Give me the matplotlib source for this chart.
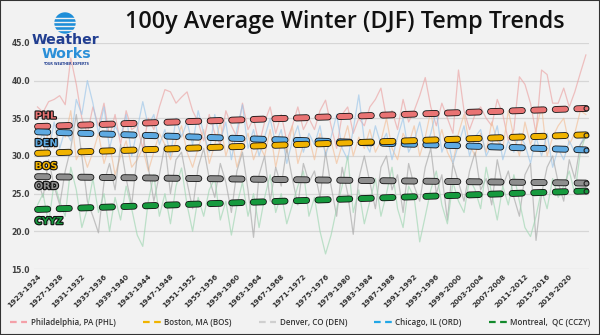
import numpy as np
import matplotlib.pyplot as plt
import matplotlib.patheffects as pe
from matplotlib.patches import Circle, Rectangle
from matplotlib.lines import Line2D

# Seasons on the category axis (winter DJF)
seasons = [f"{y}-{y + 1}" for y in range(1923, 2023)]
tick_every = 4

# Raw winter averages (deg F)
phl = [36.5, 35.8, 37.2, 37.5, 38.0, 36.8, 43.0, 39.5, 35.0, 33.0,
       36.5, 34.0, 37.0, 32.5, 35.5, 31.5, 36.0, 33.5, 34.0, 31.0,
       35.0, 33.5, 36.5, 38.8, 38.5, 37.0, 37.8, 38.5, 36.0, 34.5,
       32.0, 35.5, 33.0, 31.5, 36.0, 34.0, 32.5, 37.0, 33.5, 35.0,
       31.5, 34.5, 36.5, 33.0, 35.5, 32.0, 34.0, 36.5, 33.5, 35.0,
       33.5, 36.0, 37.4, 34.0, 31.0, 35.5, 36.5, 33.0, 35.0, 34.0,
       36.5, 37.5, 39.0, 35.0, 36.0, 33.5, 37.5, 34.5, 36.0, 38.0,
       40.4, 36.5, 34.0, 37.0, 35.0, 33.0, 41.4, 36.0, 33.5, 35.5,
       36.5, 35.0, 34.0, 37.5, 35.5, 32.0, 33.5, 40.5, 39.5, 37.0,
       33.0, 41.4, 40.8, 37.0, 37.0, 39.0, 36.5, 38.5, 41.0, 43.4]
bos = [32.5, 30.0, 33.5, 31.0, 34.0, 32.5, 36.0, 29.5, 31.0, 28.5,
       30.5, 33.0, 29.0, 31.5, 27.5, 30.0, 32.0, 28.5, 29.5, 31.0,
       28.0, 30.5, 33.0, 31.5, 29.5, 32.0, 34.0, 30.5, 28.5, 31.0,
       33.5, 29.0, 31.5, 34.5, 30.0, 32.5, 28.5, 31.0, 33.0, 29.5,
       31.5, 30.0, 33.5, 28.5, 32.0, 30.5, 34.0, 29.0, 31.5, 32.5,
       29.5, 33.0, 30.5, 32.0, 29.0, 31.5, 34.0, 30.0, 32.5, 31.0,
       33.5, 30.5, 32.0, 35.0, 31.0, 29.5, 33.0, 31.5, 34.0, 30.0,
       32.5, 36.0, 31.0, 33.5, 30.5, 29.0, 33.0, 35.5, 31.5, 30.0,
       33.0, 30.5, 34.5, 32.0, 31.0, 36.0, 32.5, 30.0, 34.5, 31.5,
       33.5, 36.5, 30.0, 32.5, 34.0, 35.0, 31.5, 33.0, 36.0, 35.5]
den = [31.5, 33.0, 30.5, 34.5, 31.0, 33.5, 32.0, 37.5, 35.5, 40.0,
       37.0, 33.0, 36.5, 31.0, 34.0, 32.5, 35.5, 30.0, 33.5, 37.2,
       34.0, 35.5, 31.5, 33.5, 30.0, 35.0, 32.5, 34.5, 31.5, 36.0,
       33.0, 30.5, 35.5, 32.0, 34.5, 29.5, 33.5, 36.8, 31.0, 33.5,
       30.0, 32.5, 35.0, 31.5, 33.5, 29.0, 32.0, 34.0, 30.5, 33.0,
       31.5, 34.0, 30.0, 32.5, 35.5, 31.0, 29.5, 33.5, 38.1, 32.0,
       30.5, 34.0, 31.5, 33.0, 29.5, 32.5, 35.0, 30.5, 32.0, 34.5,
       31.0, 33.0, 36.0, 30.5, 32.5, 29.0, 31.5, 34.0, 30.0, 32.5,
       33.5, 30.0, 31.5, 34.0, 29.5, 32.0, 30.5, 33.0, 31.5, 29.0,
       32.5, 30.0, 33.0, 28.5, 31.0, 29.5, 32.0, 30.5, 31.5, 33.0]
ord_ = [27.0, 24.5, 29.5, 26.0, 23.5, 28.0, 31.0, 35.5, 30.0, 24.0,
        22.0, 19.8, 26.5, 29.0, 25.5, 31.5, 27.0, 23.5, 30.0, 33.0,
        28.5, 24.0, 27.5, 31.5, 25.0, 29.5, 30.5, 26.5, 23.0, 28.5,
        31.0, 27.0, 24.5, 29.0, 26.5, 22.5, 28.0, 30.5, 25.5, 19.2,
        27.5, 30.0, 24.0, 28.5, 26.0, 31.0, 27.0, 23.5, 29.0, 26.5,
        28.0, 24.5, 30.5, 26.0, 22.0, 28.5, 25.0, 19.6, 27.0, 30.0,
        26.5, 23.0, 28.5, 30.0, 25.5, 27.5, 22.5, 29.0, 26.0, 24.0,
        28.5, 31.0, 25.0, 27.5, 21.5, 29.0, 26.5, 24.0, 28.0, 30.5,
        25.5, 27.0, 23.5, 29.5, 26.0, 28.0, 24.5, 22.0, 27.5, 29.0,
        18.8, 25.0, 28.5, 30.0, 26.5, 24.0, 29.5, 27.0, 31.5, 32.5]
cyyz = [23.5, 25.0, 21.0, 26.5, 24.0, 22.0, 28.5, 25.5, 20.5, 23.0,
        27.0, 22.5, 25.0, 20.0, 24.5, 21.5, 26.0, 23.0, 19.5, 18.0,
        24.0, 27.5, 22.0, 25.0, 21.0, 26.0, 28.4, 23.5, 20.0, 24.5,
        22.0, 25.5, 27.0, 21.5, 24.0, 19.5, 23.5, 26.5, 22.0, 25.0,
        20.5, 24.5, 27.5, 22.5, 25.0, 21.0, 23.5, 26.0, 28.0, 22.0,
        24.5, 20.0, 17.0, 19.5, 23.0, 26.0, 30.0, 22.5, 25.5, 21.0,
        24.0, 27.0, 22.0, 25.0, 28.5, 23.0, 20.5, 26.0, 24.5, 18.6,
        22.0, 25.5, 28.0, 23.5, 21.0, 26.5, 24.0, 22.5, 27.0, 25.5,
        23.0, 28.5, 25.0, 21.5, 26.0, 23.5, 27.5, 24.0, 20.5, 19.3,
        22.0, 25.5, 23.0, 27.0, 24.5, 26.0, 28.0, 25.0, 30.5, 32.8]

# Trend lines: value at first and last season
trend_names = ["PHL", "DEN", "BOS", "ORD", "CYYZ"]
trend_start = [33.9, 33.2, 30.35, 27.25, 22.9]
trend_end = [36.3, 30.8, 32.8, 26.4, 25.35]
trend_label_y = [35.35, 31.7, 28.65, 26.0, 21.35]

raw_series = [phl, bos, den, ord_, cyyz]
raw_colors = ["#eba3a3", "#f3bf98", "#9cc6ea", "#a6a6a6", "#9fd6b2"]
trend_colors = ["#e97474", "#5eaae2", "#f1b300", "#8e8e8e", "#169a3e"]

legend_labels = ["Philadelphia, PA (PHL)", "Boston, MA (BOS)", "Denver, CO (DEN)",
                 "Chicago, IL (ORD)", "Montreal,  QC (CCZY)"]
legend_colors = ["#f4a0a8", "#f0b400", "#cfcfcf", "#22a7e6", "#138a2c"]

bg = "#f2f2f2"
fig = plt.figure(figsize=(6, 3.35), dpi=100, facecolor=bg)
ax = fig.add_axes([0.057, 0.197, 0.925, 0.675], facecolor=bg)

x = np.arange(len(seasons))
for vals, c in zip(raw_series, raw_colors):
    ax.plot(x, vals, color=c, lw=0.9, alpha=0.65, zorder=2)

for name, s, e, c, ly in zip(trend_names, trend_start, trend_end, trend_colors, trend_label_y):
    ax.plot([x[0], x[-1]], [s, e], color=c, lw=3.7, dashes=(2.0, 2.2),
            dash_capstyle="round", zorder=4,
            path_effects=[pe.Stroke(linewidth=4.9, foreground="#111111"), pe.Normal()])
    ax.plot([x[-1]], [e], "o", ms=3.5, color=c, mec="#222222", mew=0.8, zorder=5)
    ax.text(-0.5, ly, name, color=c, fontsize=7, fontweight="bold", ha="left", va="center",
            zorder=6, path_effects=[pe.Stroke(linewidth=1.6, foreground="#111111"), pe.Normal()])

ax.set_xlim(-0.6, 99.6)
ax.set_ylim(15, 45)
ax.set_yticks([15, 20, 25, 30, 35, 40, 45])
ax.set_yticklabels([f"{v:.1f}" for v in [15, 20, 25, 30, 35, 40, 45]],
                   fontsize=5.5, fontweight="bold", color="#404040")
ax.set_xticks(x[::tick_every])
ax.set_xticklabels(seasons[::tick_every], rotation=45, ha="right", rotation_mode="anchor",
                   fontsize=5.3, fontweight="bold", color="#333333")
ax.tick_params(length=0, pad=3)
ax.grid(axis="y", color="#d6d6d6", lw=0.9)
ax.set_axisbelow(True)
for sp in ax.spines.values():
    sp.set_visible(False)

handles = [Line2D([], [], color=c, lw=1.6, dashes=(3, 2)) for c in legend_colors]
fig.legend(handles, legend_labels, loc="center", bbox_to_anchor=(0.5, 0.037), ncol=5,
           frameon=False, handlelength=2.2, handletextpad=0.4, columnspacing=3.4,
           prop={"size": 5.8, "weight": "semibold", "family": "Open Sans"},
           labelcolor="#333333")

fig.text(0.575, 0.935, "100y Average Winter (DJF) Temp Trends", fontsize=16.8,
         family="Open Sans", fontweight="semibold", color="#111111", ha="center", va="center")

# WeatherWorks logo, drawn in figure pixel coordinates
logo = fig.add_axes([30 / 600, 1 - 70 / 335, 72 / 600, 65 / 335])
logo.set_xlim(30, 102)
logo.set_ylim(70, 5)
logo.axis("off")
logo.add_patch(Circle((65, 23), 10, color="#1e8ed8"))
for yy in [17.5, 21.5, 25.5, 29.5]:
    logo.plot([54, 76], [yy, yy], color=bg, lw=1.0)
logo.text(65, 40, "Weather", color="#223f91", fontsize=10.2, fontweight="bold",
          ha="center", va="center", family="DejaVu Sans")
logo.text(66, 54, "Works", color="#2a8fd8", fontsize=10.2, fontweight="bold",
          ha="center", va="center", family="DejaVu Sans")
logo.text(66, 64, "YOUR WEATHER EXPERTS", color="#223f91", fontsize=2.3, fontweight="bold",
          ha="center", va="center")

fig.patches.append(Rectangle((0, 0), 1, 1, transform=fig.transFigure, fill=False,
                             edgecolor="#333333", lw=1.5))

fig.savefig("out.png", dpi=100, facecolor=bg)
